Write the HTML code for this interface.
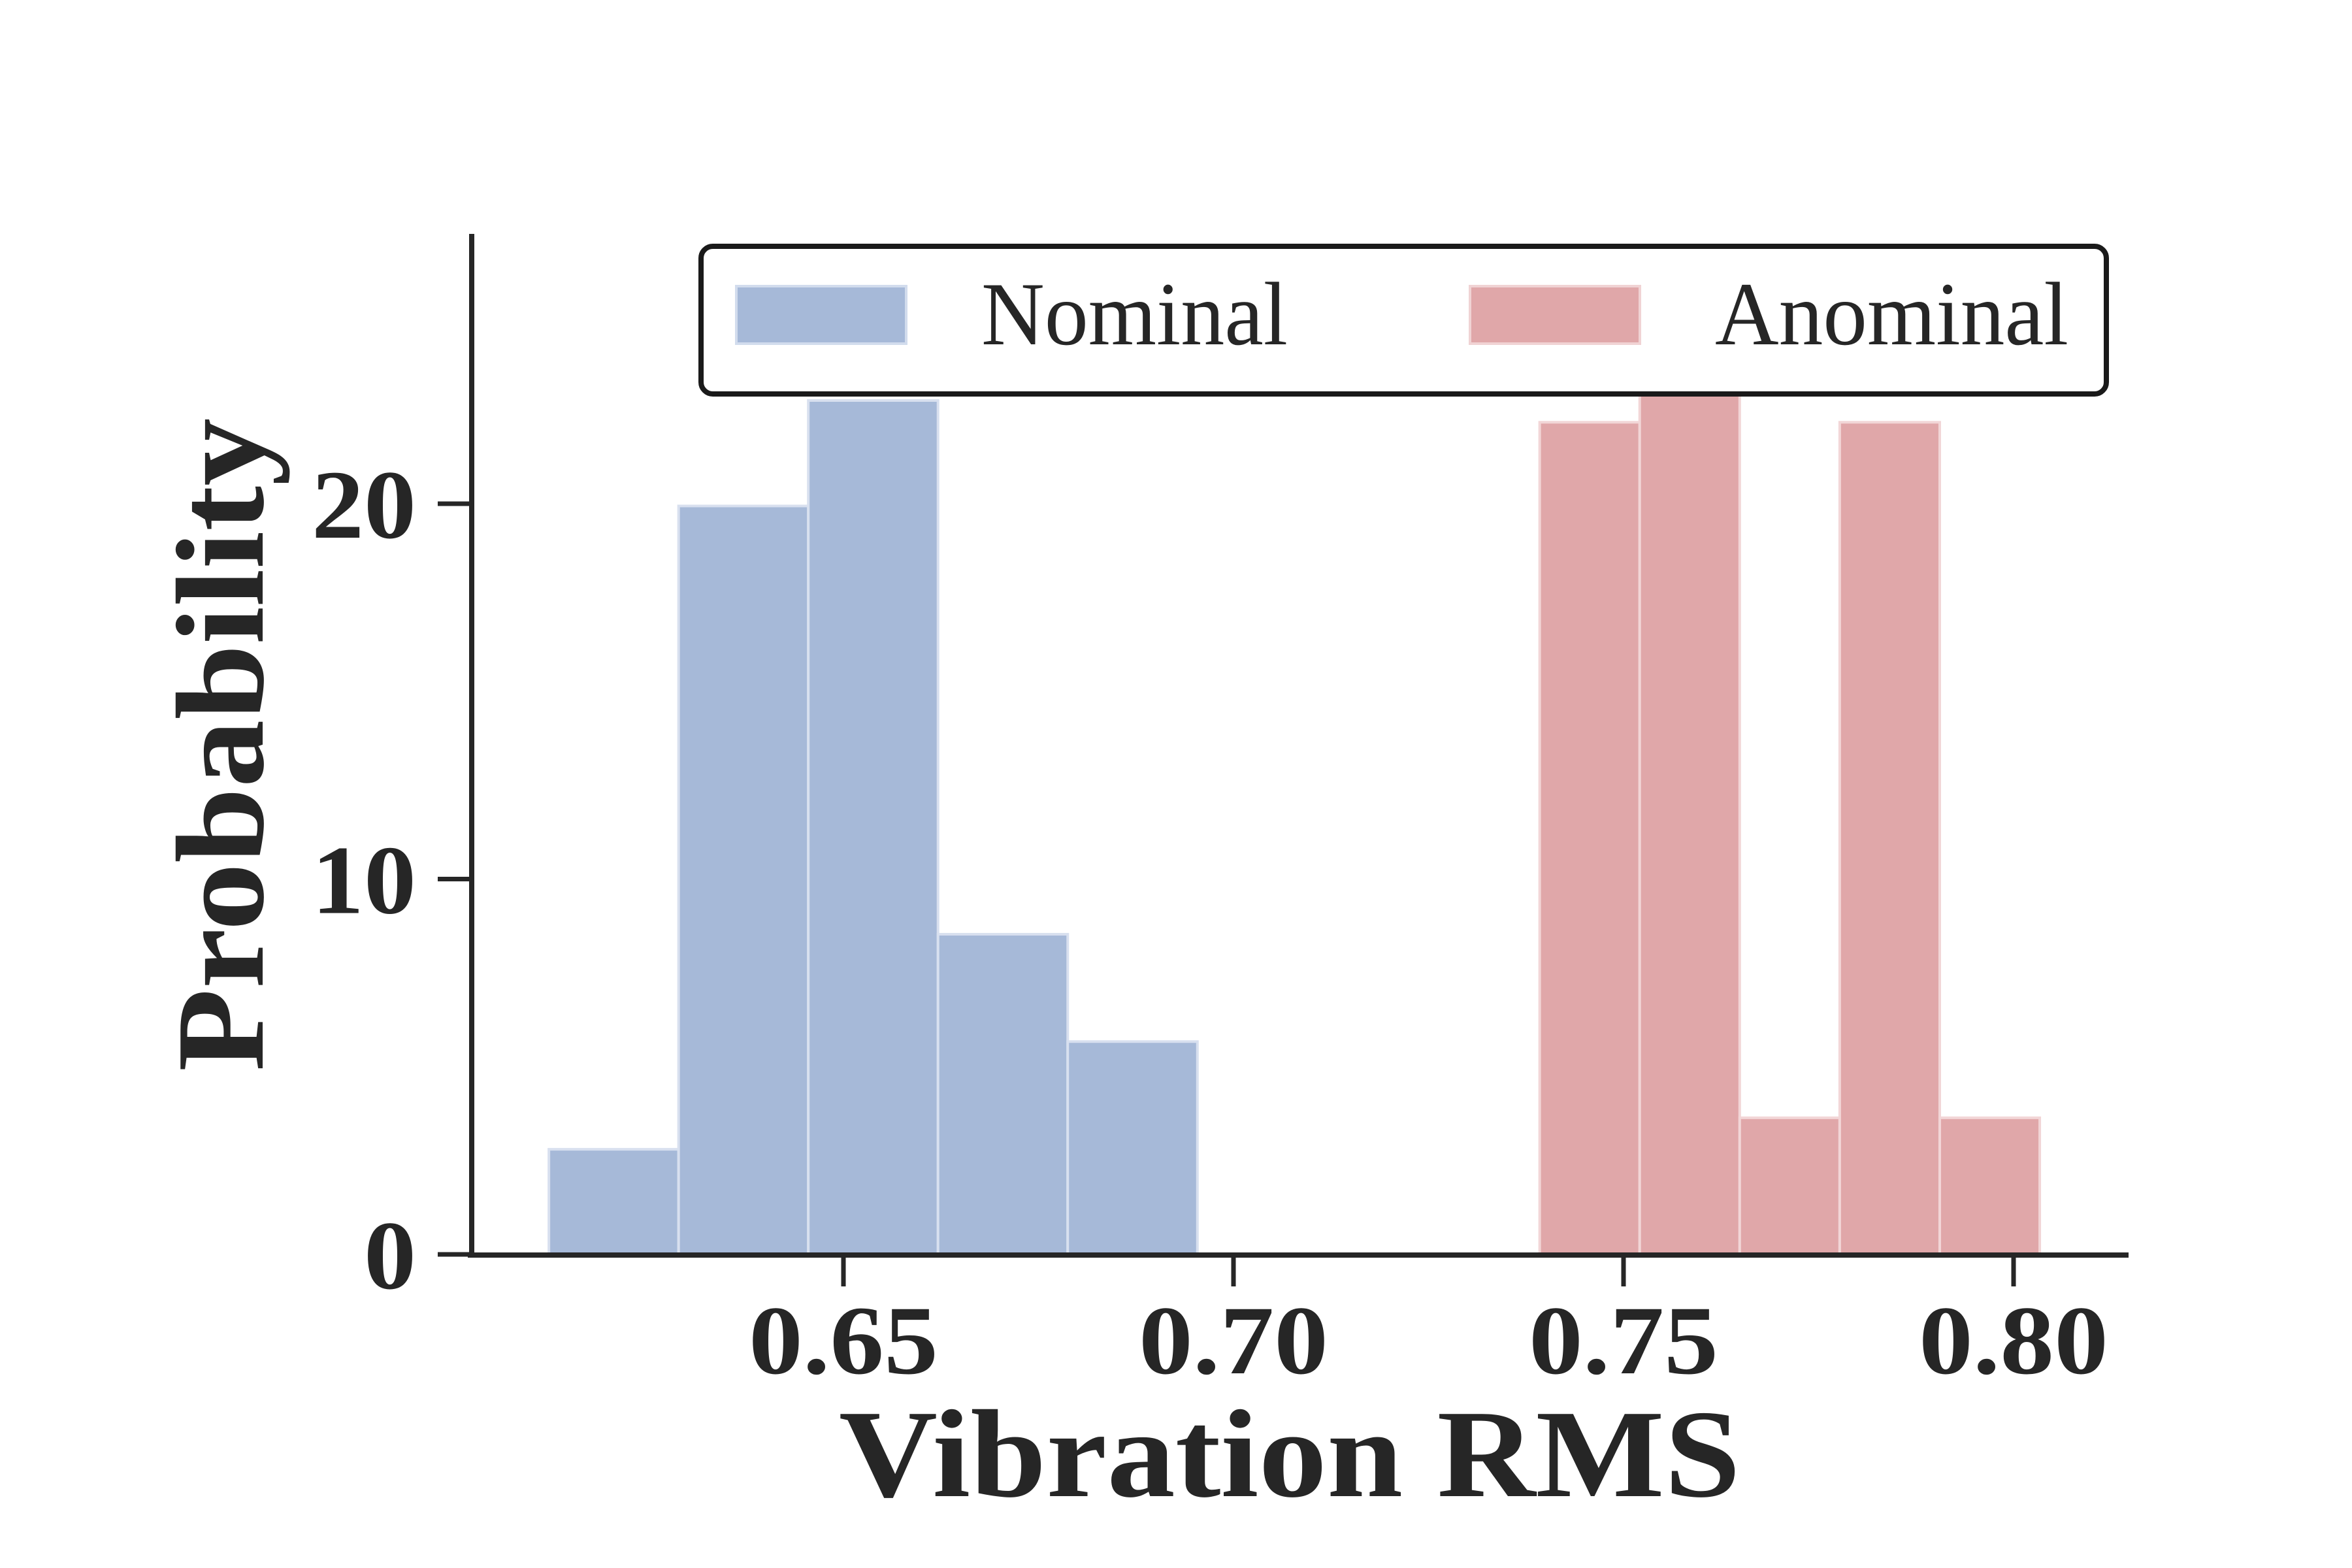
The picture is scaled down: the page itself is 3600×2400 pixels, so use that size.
<!DOCTYPE html>
<html><head><meta charset="utf-8"><style>
html,body{margin:0;padding:0;background:#fff;}
svg{display:block;}
text{font-family:"Liberation Serif",serif;fill:#262626;}
</style></head><body>
<svg id="chart" width="3600" height="2400" viewBox="0 0 3600 2400" xmlns="http://www.w3.org/2000/svg">
<g id="bars"></g>
<g id="axes"></g>
<g id="legend">
  <rect x="1073" y="377" width="2151" height="226" rx="18" fill="#fff" stroke="#1a1a1a" stroke-width="8"/>
  <rect x="1127" y="438" width="260" height="88" fill="#a6b9d8" stroke="#d2dced" stroke-width="4"/>
  <text x="1502" y="527" font-size="138" textLength="469" lengthAdjust="spacingAndGlyphs">Nominal</text>
  <rect x="2250" y="438" width="260" height="88" fill="#e0a7a9" stroke="#f0d3d4" stroke-width="4"/>
  <text x="2625" y="527" font-size="138" textLength="541" lengthAdjust="spacingAndGlyphs">Anominal</text>
</g>
</svg>
<script>
const nominalStart = 0.61224;
const nominalWidth = 0.016627;
const nominalValues = [2.80, 19.94, 22.75, 8.53, 5.67];
const anomStart = 0.73925;
const anomWidth = 0.012821;
const anomValues = [22.17, 24.5, 3.64, 22.17, 3.64];
const xTicks = [0.65, 0.70, 0.75, 0.80];
const xTickLabels = ["0.65", "0.70", "0.75", "0.80"];
const yTicks = [0, 10, 20];
const yTickLabels = ["0", "10", "20"];

const NS = "http://www.w3.org/2000/svg";
function X(v){ return 1291 + (v - 0.65) / 0.05 * 597; }
function Y(v){ return 1920 - v * 57.45; }
function mk(tag, attrs, parent){
  const e = document.createElementNS(NS, tag);
  for (const k in attrs) e.setAttribute(k, attrs[k]);
  parent.appendChild(e);
  return e;
}
const bars = document.getElementById('bars');
nominalValues.forEach((v, i) => {
  const x0 = X(nominalStart + i * nominalWidth), x1 = X(nominalStart + (i + 1) * nominalWidth);
  const r = mk('rect', {x: x0, y: Y(v), width: x1 - x0, height: Y(0) - Y(v), fill: '#a6b9d8', stroke: '#d8e0ef', 'stroke-width': 4}, bars);
  
  
});
anomValues.forEach((v, i) => {
  const x0 = X(anomStart + i * anomWidth), x1 = X(anomStart + (i + 1) * anomWidth);
  const r = mk('rect', {x: x0, y: Y(v), width: x1 - x0, height: Y(0) - Y(v), fill: '#e0a7a9', stroke: '#f2d6d7', 'stroke-width': 4}, bars);
  
  
});
const axes = document.getElementById('axes');
const ya = mk('line', {x1: 722, y1: 358, x2: 722, y2: 1924, stroke: '#262626', 'stroke-width': 8}, axes);


const xa = mk('line', {x1: 716, y1: 1921, x2: 3258, y2: 1921, stroke: '#262626', 'stroke-width': 8}, axes);


xTicks.forEach((t, i) => {
  const l = mk('line', {x1: X(t), y1: 1920, x2: X(t), y2: 1969, stroke: '#262626', 'stroke-width': 7}, axes);
  
  
  const tx = mk('text', {x: X(t), y: 2102, 'font-size': 150, 'font-weight': 'bold', 'text-anchor': 'middle', textLength: 290, lengthAdjust: 'spacingAndGlyphs'}, axes);
  tx.textContent = xTickLabels[i];
  
  
});
yTicks.forEach((t, i) => {
  const l = mk('line', {x1: 670, y1: Y(t), x2: 720, y2: Y(t), stroke: '#262626', 'stroke-width': 7}, axes);
  
  
  const tx = mk('text', {x: 637, y: Y(t) + 52, 'font-size': 150, 'font-weight': 'bold', 'text-anchor': 'end', textLength: yTickLabels[i].length * 80, lengthAdjust: 'spacingAndGlyphs'}, axes);
  tx.textContent = yTickLabels[i];
  
  
});
const xl = mk('text', {x: 1974, y: 2290, 'font-size': 192, 'font-weight': 'bold', 'text-anchor': 'middle', textLength: 1380, lengthAdjust: 'spacingAndGlyphs'}, axes);
xl.textContent = 'Vibration RMS';


const yl = mk('text', {x: 0, y: 0, 'font-size': 192, 'font-weight': 'bold', 'text-anchor': 'middle', textLength: 1000, lengthAdjust: 'spacingAndGlyphs', transform: 'translate(402,1140) rotate(-90)'}, axes);
yl.textContent = 'Probability';


</script>
</body></html>
